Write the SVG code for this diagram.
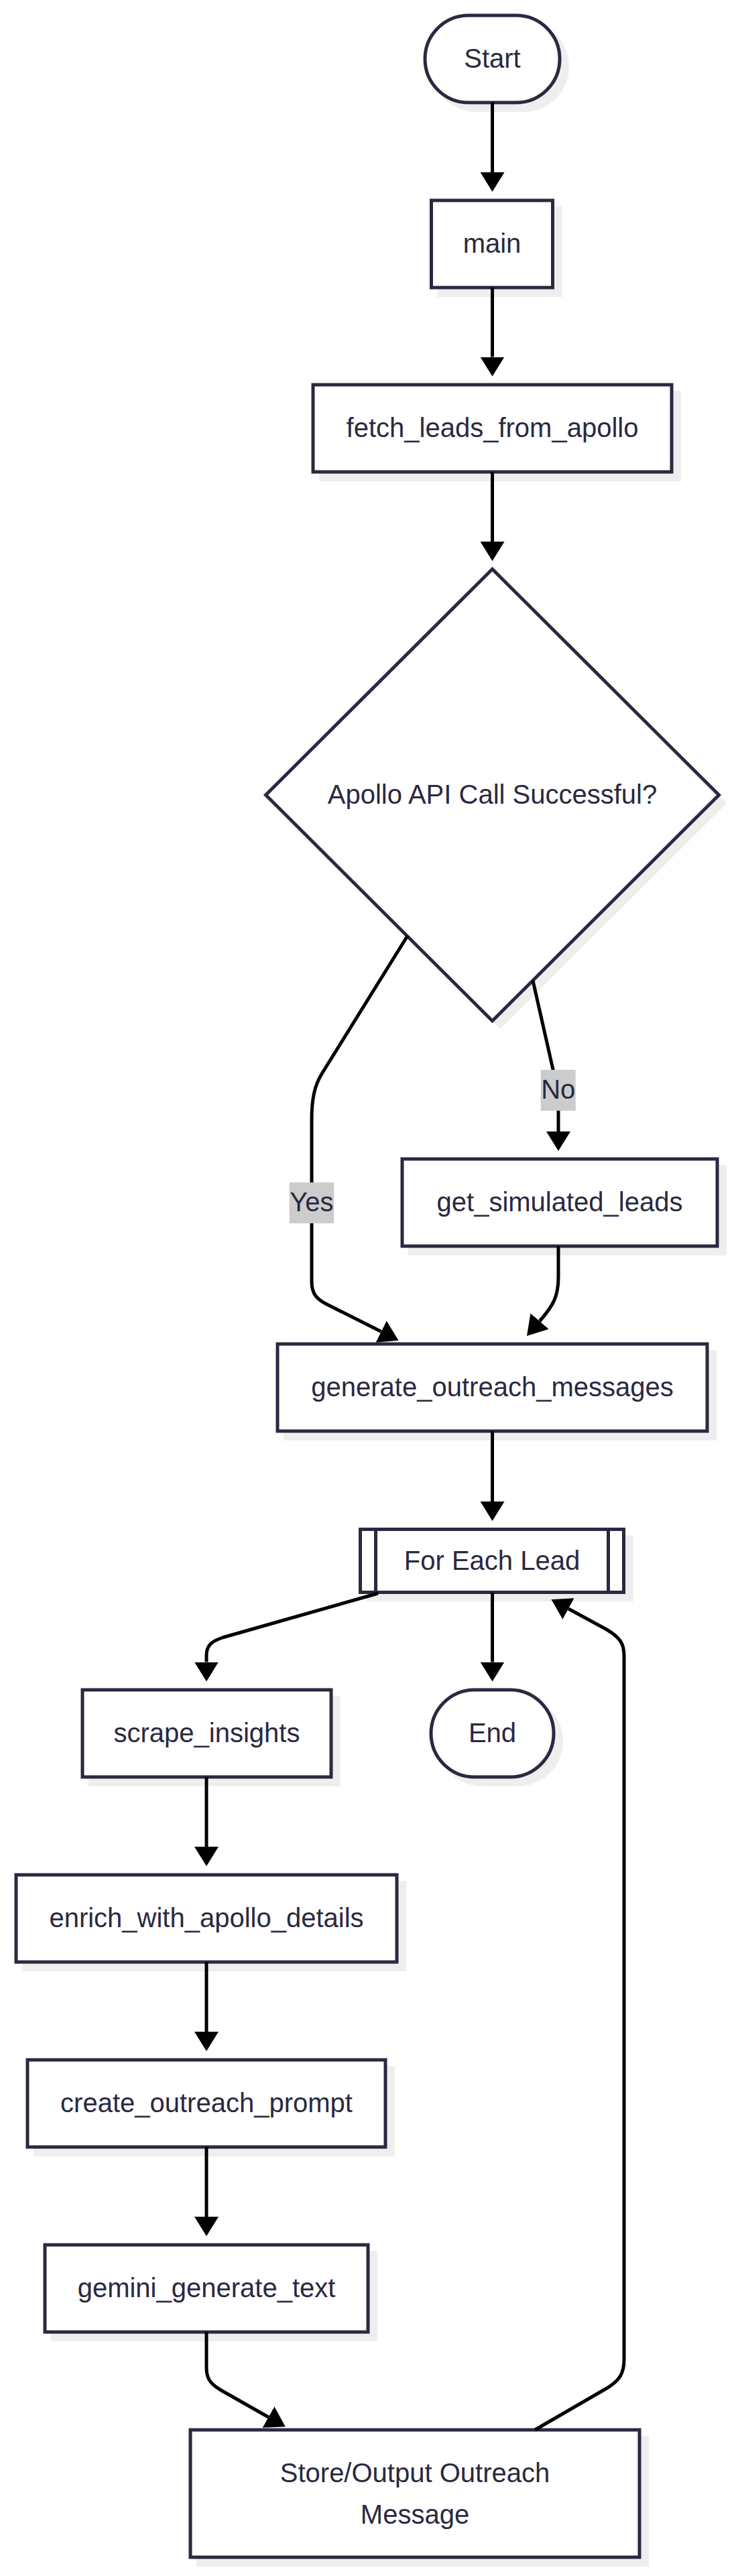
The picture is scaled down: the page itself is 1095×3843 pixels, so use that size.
<svg xmlns="http://www.w3.org/2000/svg" width="1095" height="3843" viewBox="0 0 1095 3843">
<defs>
<marker id="arrow" markerUnits="userSpaceOnUse" viewBox="0 0 29 36" refX="0" refY="18" markerWidth="29" markerHeight="36" orient="auto"><path d="M0,0 L29,18 L0,36 z" fill="#000"/></marker>
</defs>
<style>
.box{fill:#ffffff;stroke:#2a2940;stroke-width:5}
.shadow{fill:#eeeeee}
.t{font-family:"Liberation Sans",Arial,sans-serif;font-size:40px;fill:#2a2940;text-anchor:middle}
.edge{fill:none;stroke:#000000;stroke-width:5;marker-end:url(#arrow)}
.lbg{fill:#cccccc}
</style>
<rect x="0" y="0" width="1095" height="3843" fill="#ffffff"/>
<g id="nodes">
<g id="Start">
<rect class="shadow" x="643" y="32" width="206" height="135" rx="67.5"/>
<rect class="box" x="634" y="23" width="201" height="130" rx="65"/>
<text class="t" x="734.5" y="101">Start</text>
</g>
<g id="main">
<rect class="shadow" x="652.5" y="308" width="186" height="135"/>
<rect class="box" x="643.5" y="299" width="181" height="130"/>
<text class="t" x="734" y="377">main</text>
</g>
<g id="fetch_leads_from_apollo">
<rect class="shadow" x="476" y="583" width="540" height="135"/>
<rect class="box" x="467" y="574" width="535" height="130"/>
<text class="t" x="734.5" y="652">fetch_leads_from_apollo</text>
</g>
<g id="decision">
<polygon class="shadow" points="746.5,861 1084.5,1198 746.5,1535 408.5,1198"/>
<polygon class="box" points="734.5,849 1072.5,1186 734.5,1523 396.5,1186"/>
<text class="t" x="734.5" y="1199">Apollo API Call Successful?</text>
</g>
<g id="get_simulated_leads">
<rect class="shadow" x="609" y="1738" width="475" height="135"/>
<rect class="box" x="600" y="1729" width="470" height="130"/>
<text class="t" x="835" y="1807">get_simulated_leads</text>
</g>
<g id="generate_outreach_messages">
<rect class="shadow" x="423" y="2014" width="646" height="135"/>
<rect class="box" x="414" y="2005" width="641" height="130"/>
<text class="t" x="734.5" y="2083">generate_outreach_messages</text>
</g>
<g id="for_each_lead">
<rect class="shadow" x="546.5" y="2290.5" width="398" height="99"/>
<rect class="box" x="537.5" y="2281.5" width="393" height="94"/>
<line class="box" x1="560.5" y1="2281.5" x2="560.5" y2="2375.5"/>
<line class="box" x1="907.5" y1="2281.5" x2="907.5" y2="2375.5"/>
<text class="t" x="734" y="2341.5">For Each Lead</text>
</g>
<g id="scrape_insights">
<rect class="shadow" x="132" y="2530" width="376" height="135"/>
<rect class="box" x="123" y="2521" width="371" height="130"/>
<text class="t" x="308.5" y="2599">scrape_insights</text>
</g>
<g id="End">
<rect class="shadow" x="652" y="2530" width="188" height="135" rx="67.5"/>
<rect class="box" x="643" y="2521" width="183" height="130" rx="65"/>
<text class="t" x="734.5" y="2599">End</text>
</g>
<g id="enrich_with_apollo_details">
<rect class="shadow" x="33" y="2806" width="573" height="135"/>
<rect class="box" x="24" y="2797" width="568" height="130"/>
<text class="t" x="308" y="2875">enrich_with_apollo_details</text>
</g>
<g id="create_outreach_prompt">
<rect class="shadow" x="50" y="3082" width="539" height="135"/>
<rect class="box" x="41" y="3073" width="534" height="130"/>
<text class="t" x="308" y="3151">create_outreach_prompt</text>
</g>
<g id="gemini_generate_text">
<rect class="shadow" x="76" y="3358" width="487" height="135"/>
<rect class="box" x="67" y="3349" width="482" height="130"/>
<text class="t" x="308" y="3427">gemini_generate_text</text>
</g>
<g id="store_output">
<rect class="shadow" x="293" y="3634" width="675" height="195"/>
<rect class="box" x="284" y="3625" width="670" height="190"/>
<text class="t" x="619" y="3703">Store/Output Outreach</text>
<text class="t" x="619" y="3765">Message</text>
</g>
</g>
<g id="connectors">
<path class="edge" d="M734.5,153 L734.5,257"/>
<path class="edge" d="M734.5,429 L734.5,532.5"/>
<path class="edge" d="M734.5,704 L734.5,808"/>
<path class="edge" d="M608,1396 L480,1602 C469,1620 465,1640 465,1670 L465,1912 C465,1930 472,1938 488,1946 L568.6,1986.6"/>
<path class="edge" d="M795,1463 L826,1600 Q833,1630 833,1660 L833,1688"/>
<path class="edge" d="M833,1859 L833,1905 C833,1935 825,1948 805,1971"/>
<path class="edge" d="M734.5,2135 L734.5,2240"/>
<path class="edge" d="M564,2377 L332,2443 C314,2449 308,2456 308,2470 L308,2479.5"/>
<path class="edge" d="M734.5,2376 L734.5,2479.5"/>
<path class="edge" d="M308,2651 L308,2755"/>
<path class="edge" d="M308,2927 L308,3031"/>
<path class="edge" d="M308,3203 L308,3307"/>
<path class="edge" d="M308,3479 L308,3532 C308,3548 313,3556 330,3566 L400.5,3606"/>
<path class="edge" d="M798,3625 L905,3563 C925,3551 931,3540 931,3520 L931,2470 C931,2452 925,2443 905,2431 L848,2400"/>
</g>
<g id="edge-labels">
<g id="label-yes">
<rect class="lbg" x="431.7" y="1764" width="66.6" height="61"/>
<text class="t" x="465" y="1807">Yes</text>
</g>
<g id="label-no">
<rect class="lbg" x="806.7" y="1596" width="52" height="61"/>
<text class="t" x="832.7" y="1639">No</text>
</g>
</g>
</svg>
